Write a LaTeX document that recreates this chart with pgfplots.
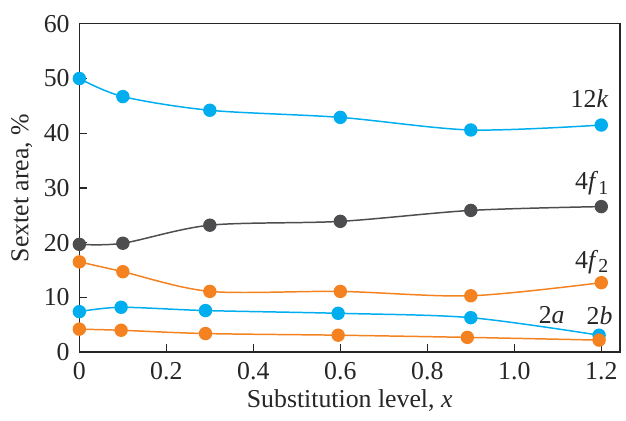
\documentclass[border=0pt]{standalone}
\usepackage{fontspec}
\setmainfont{Liberation Serif}
\usepackage{pgfplots}
\pgfplotsset{compat=1.18}
\definecolor{cblue}{HTML}{00AEEF}
\definecolor{corange}{HTML}{F58220}
\definecolor{cgray}{HTML}{4D4D4F}
\begin{document}
\fontsize{26}{30}\selectfont
\begin{tikzpicture}
\begin{axis}[
  scale only axis,
  width=545pt, height=331pt,
  xmin=0, xmax=1.243, ymin=0, ymax=60,
  xtick={0,0.2,0.4,0.6,0.8,1.0,1.2},
  xticklabels={0,0.2,0.4,0.6,0.8,1.0,1.2},
  ytick={0,10,20,30,40,50,60},
  tick pos=left, tick align=inside,
  major tick length=8pt,
  axis line style={line width=1.4pt, black!85},
  tick style={line width=1.1pt, black!85},
  /pgf/number format/assume math mode=true,
  ticklabel style={font=\fontsize{26}{30}\selectfont, text=black!85},
  yticklabel style={xshift=-1pt},
  xticklabel style={yshift=-1pt},
  label style={font=\fontsize{26}{30}\selectfont, text=black!85},
  xlabel={Substitution level, \textit{x}},
  ylabel={Sextet area, \%},
  xlabel style={at={(rel axis cs:0.5,0)}, anchor=center, yshift=-49pt},
  ylabel style={at={(rel axis cs:0,0.5)}, anchor=center, yshift=58pt},
  every axis plot/.style={smooth, tension=0.5, line width=1.5pt, mark=*, mark size=6pt},
  clip=false,
]
\addplot[cblue, mark options={fill=cblue, draw=cblue}] coordinates {(0,50.0) (0.1,46.7) (0.3,44.2) (0.6,42.9) (0.9,40.6) (1.2,41.5)};
\addplot[cgray, mark options={fill=cgray, draw=cgray}] coordinates {(0,19.7) (0.1,19.9) (0.3,23.2) (0.6,23.9) (0.9,25.9) (1.2,26.6)};
\addplot[corange, mark options={fill=corange, draw=corange}] coordinates {(0,16.5) (0.1,14.7) (0.3,11.1) (0.6,11.1) (0.9,10.3) (1.2,12.7)};
\addplot[cblue, mark options={fill=cblue, draw=cblue}] coordinates {(0,7.4) (0.096,8.2) (0.29,7.6) (0.595,7.1) (0.9,6.3) (1.195,3.1)};
\addplot[corange, mark options={fill=corange, draw=corange}] coordinates {(0,4.2) (0.096,4.0) (0.29,3.4) (0.595,3.1) (0.892,2.7) (1.195,2.2)};
\node[text=black!85] at (axis cs:1.173,46.4) {12\textit{k}};
\node[text=black!85] at (axis cs:1.178,30.8) {4\textit{f}\raisebox{-0.35ex}{\fontsize{20}{22}\selectfont 1}};
\node[text=black!85] at (axis cs:1.178,16.5) {4\textit{f}\raisebox{-0.35ex}{\fontsize{20}{22}\selectfont 2}};
\node[text=black!85] at (axis cs:1.086,6.7) {2\textit{a}};
\node[text=black!85] at (axis cs:1.196,6.7) {2\textit{b}};
\end{axis}
\path ([shift={(-80pt,-61pt)}]current axis.south west) rectangle ([shift={(1pt,24pt)}]current axis.north east);
\end{tikzpicture}
\end{document}
